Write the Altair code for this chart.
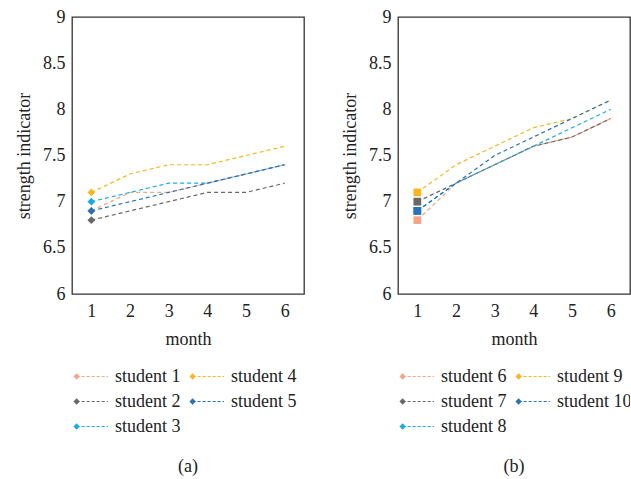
import altair as alt
import pandas as pd

months = [1, 2, 3, 4, 5, 6]

names_a = ["student 1", "student 2", "student 3", "student 4", "student 5"]
s1 = [6.9, 7.1, 7.1, 7.2, 7.3, 7.4]
s2 = [6.8, 6.9, 7.0, 7.1, 7.1, 7.2]
s3 = [7.0, 7.1, 7.2, 7.2, 7.3, 7.4]
s4 = [7.1, 7.3, 7.4, 7.4, 7.5, 7.6]
s5 = [6.9, 7.0, 7.1, 7.2, 7.3, 7.4]

names_b = ["student 6", "student 7", "student 8", "student 9", "student 10"]
s6 = [6.8, 7.2, 7.4, 7.6, 7.7, 7.9]
s7 = [7.0, 7.2, 7.4, 7.6, 7.7, 7.9]
s8 = [6.9, 7.2, 7.4, 7.6, 7.8, 8.0]
s9 = [7.1, 7.4, 7.6, 7.8, 7.9, 8.1]
s10 = [6.9, 7.2, 7.5, 7.7, 7.9, 8.1]

colors = ["#F7A584", "#686868", "#12AEEA", "#FDB51B", "#2772BA"]
y_ticks = [6, 6.5, 7, 7.5, 8, 8.5, 9]

FONT = "Liberation Serif"
FS = 18


def long_df(names, series):
    rows = []
    for n, vals in zip(names, series):
        for m, v in zip(months, vals):
            rows.append({"series": n, "month": m, "value": v})
    return pd.DataFrame(rows)


def panel(names, series, shape, caption):
    df = long_df(names, series)
    color = alt.Color("series:N", scale=alt.Scale(domain=names, range=colors), legend=None)
    x = alt.X("month:O", title="month",
              scale=alt.Scale(paddingInner=1, paddingOuter=0.5),
              axis=alt.Axis(labelAngle=0, ticks=False, domain=False, labelPadding=8,
                            titlePadding=10, labelFont=FONT, titleFont=FONT))
    y = alt.Y("value:Q", title="strength indicator",
              scale=alt.Scale(domain=[6, 9], nice=False),
              axis=alt.Axis(values=y_ticks, ticks=False, domain=False, grid=False,
                            labelPadding=7, titlePadding=9, labelExpr="datum.value + ''",
                            labelFont=FONT, titleFont=FONT))
    lines = alt.Chart(df).mark_line(strokeDash=[4, 3], strokeWidth=1.2).encode(
        x=x, y=y, color=color, order=alt.Order("month:Q"))
    pts = alt.Chart(df).transform_filter("datum.month == 1").mark_point(
        shape=shape, filled=True, size=60, opacity=1).encode(x=x, y=y, color=color)
    plot = alt.layer(lines, pts).properties(
        width=232, height=277, view=alt.ViewBackground(stroke="#333333", strokeWidth=1.3))

    # legend
    leg_rows = []
    order_pos = [(0, 0), (0, 1), (0, 2), (1, 0), (1, 1)]
    for n, (c, r) in zip(names, order_pos):
        leg_rows.append({"series": n, "col": c, "row": r})
    ldf = pd.DataFrame(leg_rows)
    lx = alt.Scale(domain=[-0.04, 1.96], nice=False, zero=False)
    ly = alt.Scale(domain=[-0.3, 3.9], nice=False, zero=False, reverse=True)
    base = alt.Chart(ldf).transform_calculate(
        x2="datum.col + 0.27", xt="datum.col + 0.33")
    lrule = base.mark_rule(strokeDash=[3, 2], strokeWidth=1).encode(
        x=alt.X("col:Q", scale=lx, axis=None), x2="x2:Q",
        y=alt.Y("row:Q", scale=ly, axis=None), color=color)
    lpt = base.mark_point(shape="diamond", filled=True, size=40, opacity=1).encode(
        x=alt.X("col:Q", scale=lx, axis=None),
        y=alt.Y("row:Q", scale=ly, axis=None), color=color)
    ltxt = base.mark_text(align="left", baseline="middle", font=FONT, fontSize=FS,
                          color="#222222", clip=True).encode(
        x=alt.X("xt:Q", scale=lx, axis=None),
        y=alt.Y("row:Q", scale=ly, axis=None), text="series:N")
    cap = alt.Chart(pd.DataFrame({"t": [caption], "cx": [0.96], "cy": [3.6]})).mark_text(
        font=FONT, fontSize=FS, color="#222222", baseline="middle").encode(
        x=alt.X("cx:Q", scale=lx, axis=None), y=alt.Y("cy:Q", scale=ly, axis=None), text="t:N")
    legend = alt.layer(lrule, lpt, ltxt, cap).properties(
        width=232, height=105, view=alt.ViewBackground(stroke="transparent"))
    return alt.vconcat(plot, legend, spacing=19).resolve_scale(color="shared")


pa = panel(names_a, [s1, s2, s3, s4, s5], "diamond", "(a)")
pb = panel(names_b, [s6, s7, s8, s9, s10], "square", "(b)")

chart = alt.hconcat(pa, pb, spacing=35).resolve_scale(color="independent").properties(
    padding={"left": 14, "top": 7, "right": 0, "bottom": 0}
).configure(font=FONT).configure_text(font=FONT).configure_axis(
    labelFont=FONT, titleFont=FONT, labelFontSize=FS, titleFontSize=FS,
    labelColor="#222222", titleColor="#222222", titleFontWeight="normal"
)

chart.save("out.html", embed_options={"renderer": "svg", "actions": False})
